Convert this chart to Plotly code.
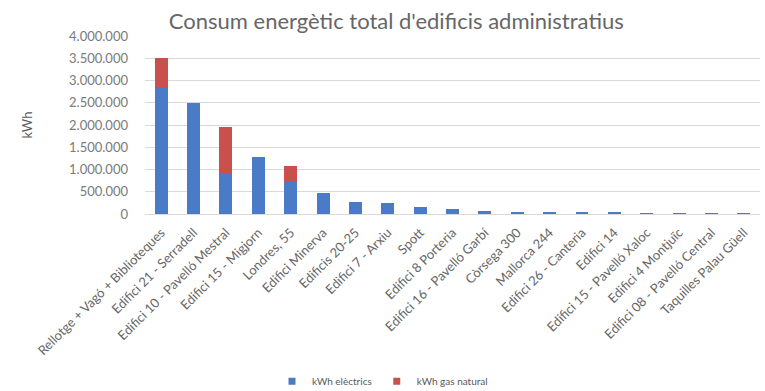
import plotly.graph_objects as go

categories = [
    "Rellotge + Vagó + Biblioteques",
    "Edifici 21 - Serradell",
    "Edifici 10 - Pavelló Mestral",
    "Edifici 15 - Migjorn",
    "Londres, 55",
    "Edifici Minerva",
    "Edificis 20-25",
    "Edifici 7 - Arxiu",
    "Spott",
    "Edifici 8 Porteria",
    "Edifici 16 - Pavelló Garbí",
    "Còrsega 300",
    "Mallorca 244",
    "Edifici 26 - Canteria",
    "Edifici 14",
    "Edifici 15 - Pavelló Xaloc",
    "Edifici 4 Montjuïc",
    "Edifici 08 - Pavelló Central",
    "Taquilles Palau Güell",
]
kwh_electrics = [2840000, 2500000, 920000, 1280000, 720000, 470000, 260000, 250000,
                 160000, 110000, 70000, 50000, 50000, 30000, 25000, 5000, 4000, 3000, 2000]
kwh_gas = [670000, 0, 1040000, 0, 360000, 0, 0, 0,
           0, 0, 0, 0, 0, 0, 0, 0, 0, 0, 0]

y_ticks = [0, 500000, 1000000, 1500000, 2000000, 2500000, 3000000, 3500000, 4000000]

font = "Lato, 'Open Sans', sans-serif"
blue = "#4A7BC6"
red = "#C9504C"

fig = go.Figure()
fig.add_trace(go.Bar(x=categories, y=kwh_electrics, name="kWh elèctrics",
                     marker=dict(color=blue, line=dict(width=0)), showlegend=False))
fig.add_trace(go.Bar(x=categories, y=kwh_gas, name="kWh gas natural",
                     marker=dict(color=red, line=dict(width=0)), showlegend=False))
# legend entries with small square swatches
fig.add_trace(go.Scatter(x=[None], y=[None], mode="markers", name="kWh elèctrics",
                         marker=dict(symbol="square", size=7, color=blue)))
fig.add_trace(go.Scatter(x=[None], y=[None], mode="markers", name="kWh gas natural",
                         marker=dict(symbol="square", size=7, color=red)))

fig.update_layout(
    barmode="stack",
    bargap=0.6,
    width=765, height=391,
    margin=dict(l=145, r=5, t=36, b=177),
    paper_bgcolor="white", plot_bgcolor="white",
    font=dict(family=font, color="#595959", size=10),
    title=dict(text="Consum energètic total d'edificis administratius",
               x=0.518, xanchor="center", xref="container",
               y=0.945, yanchor="middle", yref="container",
               font=dict(size=22, color="#666666", family=font)),
    separators=",.",
    legend=dict(orientation="h", x=0.5, xanchor="center", xref="container",
                y=0.025, yanchor="middle", yref="container",
                font=dict(size=10, color="#595959"),
                itemwidth=30, traceorder="normal"),
    showlegend=True,
)
fig.update_yaxes(range=[0, 4000000], tickvals=y_ticks, tickformat=",d",
                 showgrid=True, gridcolor="#D9D9D9", gridwidth=1,
                 zeroline=False, showline=False, ticks="", ticklabelstandoff=16,
                 title=dict(text="kWh", font=dict(size=13, color="#595959"), standoff=33),
                 tickfont=dict(size=13, color="#7a7a7a"))
fig.update_xaxes(tickangle=-45, showline=True, linecolor="#D9D9D9", ticks="",
                 ticklabelstandoff=5,
                 tickfont=dict(size=13, color="#666666"))

fig.write_html("out.html", post_script="document.body.style.margin='0';",
               config={"displayModeBar": False})
